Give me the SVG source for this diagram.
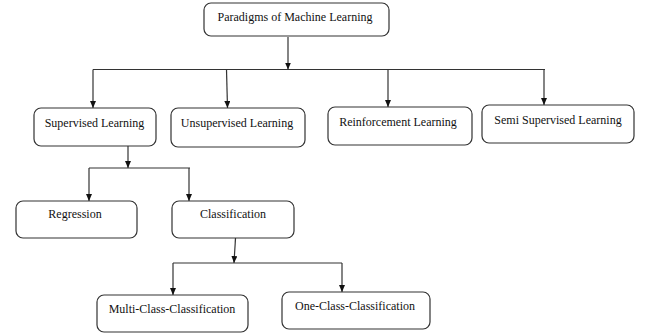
<svg xmlns="http://www.w3.org/2000/svg" width="646" height="336" viewBox="0 0 646 336">
<style>
.box{fill:#fff;stroke:#333;stroke-width:1.2}
.lbl{font-family:"Liberation Serif","Times New Roman",serif;font-size:12px;fill:#111;text-anchor:middle}
.c{fill:none;stroke:#333;stroke-width:1.2}
.a{marker-end:url(#ah)}
</style>
<defs>
<marker id="ah" markerUnits="userSpaceOnUse" markerWidth="8" markerHeight="7" refX="7" refY="3" orient="auto">
<path d="M0,0 L7,3 L0,6 z" fill="#111"/>
</marker>
</defs>
<rect width="646" height="336" fill="#fff"/>
<g id="connectors">
<path class="c a" d="M288,37 V69.5"/>
<path class="c" d="M93,69.5 H545"/>
<path class="c a" d="M93,69.5 V108"/>
<path class="c a" d="M226.5,69.5 L227.5,108"/>
<path class="c a" d="M388,69.5 V107"/>
<path class="c a" d="M544,69.5 V105"/>
<path class="c a" d="M128,146 V168"/>
<path class="c" d="M89,168 H190"/>
<path class="c a" d="M89,168 V201"/>
<path class="c a" d="M189,168 V201"/>
<path class="c a" d="M235.5,238 L234,263"/>
<path class="c" d="M173,263 H342"/>
<path class="c a" d="M173,263 V295"/>
<path class="c a" d="M342,263 V292"/>
</g>
<g id="paradigms">
<rect class="box" x="204" y="3" width="185" height="33" rx="7"/>
<text class="lbl" x="295" y="21">Paradigms of Machine Learning</text>
</g>
<g id="supervised">
<rect class="box" x="34" y="108" width="122" height="38" rx="7"/>
<text class="lbl" x="94.5" y="127">Supervised Learning</text>
</g>
<g id="unsupervised">
<rect class="box" x="171" y="108" width="134" height="39" rx="7"/>
<text class="lbl" x="237" y="127">Unsupervised Learning</text>
</g>
<g id="reinforcement">
<rect class="box" x="328" y="107" width="144" height="38" rx="7"/>
<text class="lbl" x="398" y="126">Reinforcement Learning</text>
</g>
<g id="semi">
<rect class="box" x="482" y="105" width="152" height="38" rx="7"/>
<text class="lbl" x="558" y="124">Semi Supervised Learning</text>
</g>
<g id="regression">
<rect class="box" x="16" y="201" width="121" height="37" rx="7"/>
<text class="lbl" x="75" y="218">Regression</text>
</g>
<g id="classification">
<rect class="box" x="172" y="201" width="122" height="37" rx="7"/>
<text class="lbl" x="233" y="218">Classification</text>
</g>
<g id="multi">
<rect class="box" x="97" y="295" width="151" height="37" rx="7"/>
<text class="lbl" x="172" y="313">Multi-Class-Classification</text>
</g>
<g id="oneclass">
<rect class="box" x="282" y="292" width="148" height="37" rx="7"/>
<text class="lbl" x="355" y="310">One-Class-Classification</text>
</g>
</svg>
